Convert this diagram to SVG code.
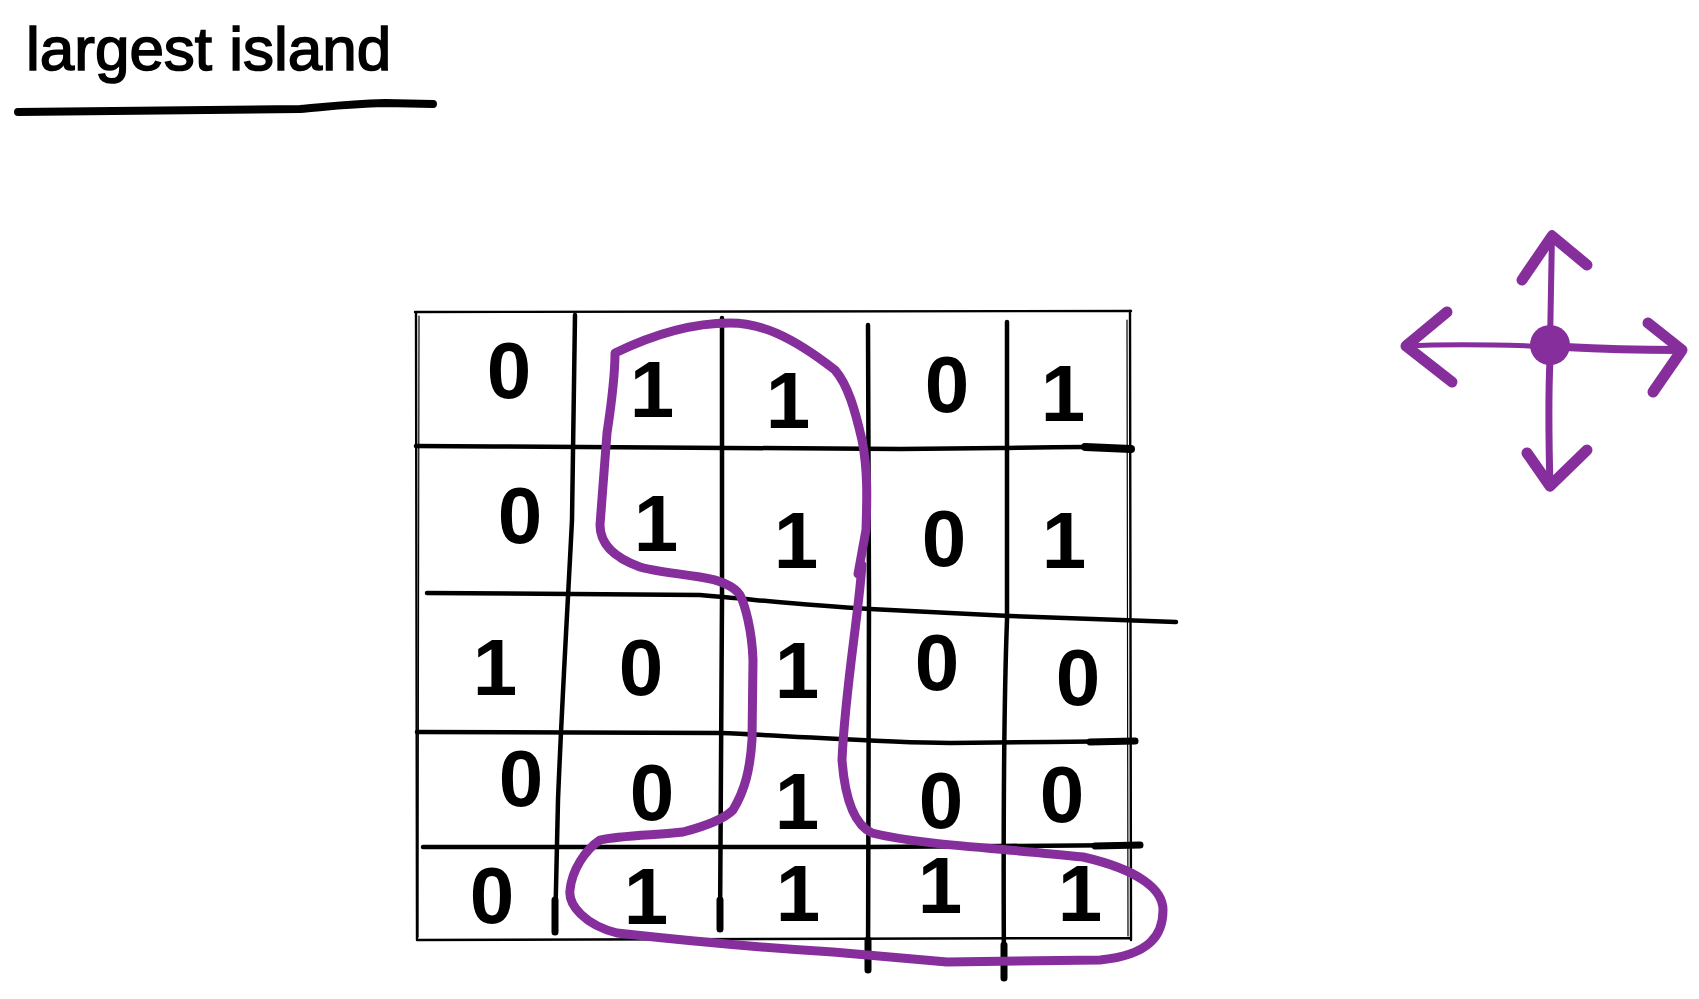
<svg xmlns="http://www.w3.org/2000/svg" width="1699" height="999" viewBox="0 0 1699 999">
  <style>
    .ink{fill:none;stroke:#000;stroke-linecap:round;stroke-linejoin:round}
    .grid{stroke-width:4.5}
    .border{stroke-width:2.4}
    .pur{fill:none;stroke:#862e9c;stroke-linecap:round;stroke-linejoin:round}
    .d{font-family:"Liberation Sans",Arial,sans-serif;font-weight:bold;font-size:80px;fill:#000;text-anchor:middle}
    .title{font-family:"Liberation Sans",Arial,sans-serif;font-size:62px;fill:#000;stroke:#000;stroke-width:1.6}
  </style>
  <rect width="1699" height="999" fill="#ffffff"/>

  <g id="title">
    <text class="title" x="26" y="70">largest island</text>
    <path class="ink" stroke-width="8" d="M18,112 L300,109 C325,107 345,104 385,103 L433,104"/>
  </g>

  <g id="grid">
    <path class="ink border" d="M415,312 L1131,311 M416,312 L417,940 L1131,938 M1130,311 L1131,940"/>
    <path class="ink" stroke-width="1.2" d="M419,316 L418,937 M1127,320 L1128,936"/>
    <path class="ink grid" d="M575,315 L572,520 C568,600 562,700 558,800 L555,932"/>
    <path class="ink grid" d="M722,318 L722,600 L720,929"/>
    <path class="ink grid" d="M868,325 L869,600 L868,970"/>
    <path class="ink grid" d="M1007,322 L1007,620 C1004,700 1003,800 1004,978"/>
    <path class="ink grid" d="M416,446 C600,447 800,448 900,449 L1000,448 C1060,447 1100,446 1131,448"/>
    <path class="ink" stroke-width="8" d="M1085,447 L1131,449"/>
    <path class="ink grid" d="M427,593 L700,595 C760,600 800,605 870,609 L1010,616 L1176,622"/>
    <path class="ink grid" d="M417,732 L720,733 C800,736 880,743 950,743 L1050,742 L1135,741"/>
    <path class="ink" stroke-width="7" d="M1090,742 L1135,741"/>
    <path class="ink grid" d="M423,847 L870,847 L1000,846 L1140,845"/>
    <path class="ink" stroke-width="7" d="M1095,846 L1140,845"/>
    <path class="ink" stroke-width="7" d="M555,900 L555,932 M720,900 L720,929 M868,940 L868,970 M1004,945 L1004,978"/>
  </g>

  <g id="digits">
    <g id="row1">
      <text class="d" x="509" y="398">0</text>
      <text class="d" x="652" y="417">1</text>
      <text class="d" x="788" y="428">1</text>
      <text class="d" x="947" y="412">0</text>
      <text class="d" x="1063" y="421">1</text>
    </g>
    <g id="row2">
      <text class="d" x="520" y="543">0</text>
      <text class="d" x="656" y="551">1</text>
      <text class="d" x="796" y="568">1</text>
      <text class="d" x="944" y="566">0</text>
      <text class="d" x="1064" y="568">1</text>
    </g>
    <g id="row3">
      <text class="d" x="495" y="695">1</text>
      <text class="d" x="641" y="695">0</text>
      <text class="d" x="797" y="698">1</text>
      <text class="d" x="937" y="690">0</text>
      <text class="d" x="1078" y="705">0</text>
    </g>
    <g id="row4">
      <text class="d" x="521" y="806">0</text>
      <text class="d" x="652" y="820">0</text>
      <text class="d" x="797" y="829">1</text>
      <text class="d" x="941" y="828">0</text>
      <text class="d" x="1062" y="822">0</text>
    </g>
    <g id="row5">
      <text class="d" x="492" y="923">0</text>
      <text class="d" x="646" y="924">1</text>
      <text class="d" x="798" y="921">1</text>
      <text class="d" x="940" y="913">1</text>
      <text class="d" x="1080" y="921">1</text>
    </g>
  </g>

  <g id="island-outline">
    <path class="pur" stroke-width="9" d="M615,353 C650,336 690,323 730,323 C760,323 790,335 835,370 C848,385 855,410 862,440 C868,470 867,500 866,530 L858,574 L862,565 C858,620 845,690 842,760 C845,800 855,825 872,833 C920,845 1000,848 1083,857 C1140,870 1163,890 1163,910 C1163,935 1150,955 1100,960 L947,962 L833,952 C750,947 680,940 617,933 C585,925 568,905 570,890 C572,870 585,850 600,840 C620,835 660,835 683,832 C710,825 725,818 733,810 C745,790 750,770 752,740 L753,660 C752,630 745,605 740,595 C733,585 720,580 700,577 C670,573 650,570 640,567 C615,558 600,545 600,525 L607,433 C612,400 615,375 615,353 Z"/>
  </g>

  <g id="compass">
    <circle cx="1550" cy="345" r="20" fill="#862e9c"/>
    <path class="pur" stroke-width="6" d="M1550,345 L1552,233"/>
    <path class="pur" stroke-width="11" d="M1522,280 L1552,236 L1587,265"/>
    <path class="pur" stroke-width="5" d="M1535,346 C1500,345 1450,344 1405,346"/>
    <path class="pur" stroke-width="11" d="M1447,312 L1406,346 L1452,382"/>
    <path class="pur" stroke-width="8" d="M1565,347 C1600,349 1640,350 1680,350"/>
    <path class="pur" stroke-width="11" d="M1648,323 L1682,350 L1653,392"/>
    <path class="pur" stroke-width="7" d="M1550,360 C1548,400 1549,450 1550,488"/>
    <path class="pur" stroke-width="11" d="M1527,453 L1550,486 L1587,450"/>
  </g>
</svg>
